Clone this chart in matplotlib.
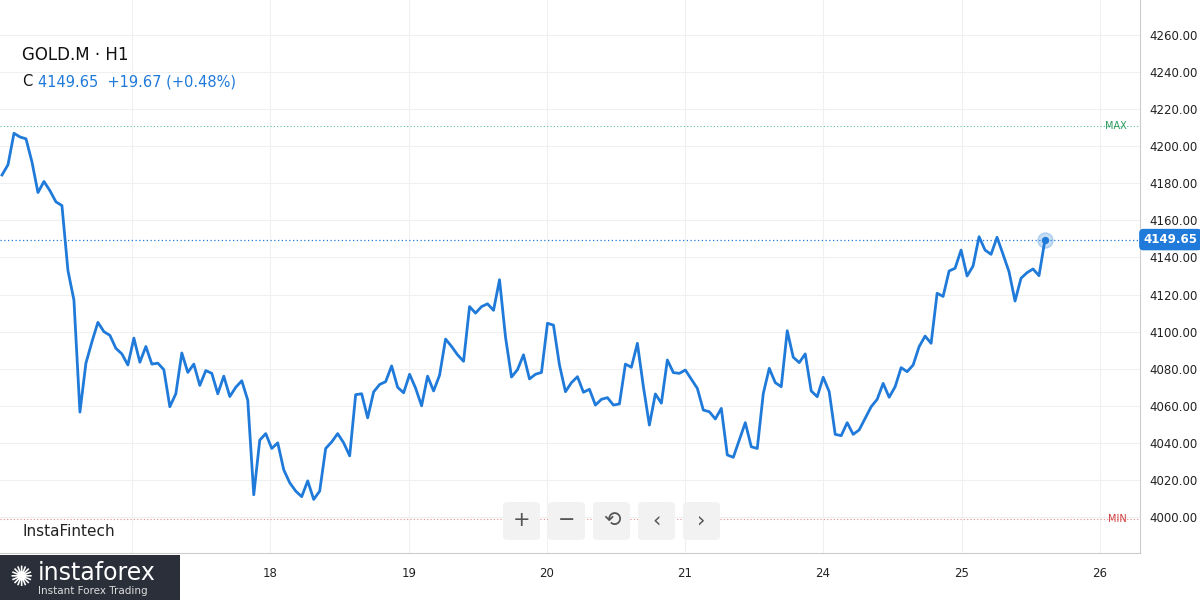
import numpy as np
import matplotlib.pyplot as plt
from matplotlib.patches import FancyBboxPatch

# hourly closes, GOLD.M H1
prices = [
    4184.5, 4190, 4207, 4205, 4204, 4191.5, 4175, 4181, 4176, 4170, 4168, 4133, 4117,
    4056.6, 4083, 4094.5, 4105, 4100, 4098, 4091, 4088, 4082, 4096.5, 4083.5, 4092,
    4082.5, 4083, 4079.5, 4059.5, 4066.5, 4088.5, 4078, 4082.5, 4071, 4079, 4077.5,
    4066.5, 4076, 4065, 4070, 4073.5, 4063, 4012, 4041.5, 4045, 4037, 4040, 4025.5,
    4018.5, 4014, 4011, 4019.5, 4009.5, 4014, 4037, 4040.5, 4045, 4040, 4033, 4066,
    4066.5, 4053.5, 4067.5, 4071.5, 4073, 4081.5, 4070, 4067, 4077, 4069.5, 4060,
    4076, 4068, 4076.5, 4096, 4092, 4087.5, 4084, 4113.5, 4110, 4113.5, 4115, 4111.5,
    4128, 4097, 4075.5, 4079.5, 4087.5, 4074.5, 4077, 4078,
    4104.5, 4103.5, 4082, 4067.6, 4072.5, 4075.7, 4067.3, 4068.9, 4060.4, 4063.5,
    4064.4, 4060.4, 4061, 4082.5, 4080.8, 4093.7, 4070.3, 4049.6, 4066.4, 4061.4,
    4084.7, 4077.9, 4077.5, 4079.3, 4074.3, 4069.4, 4057.7, 4056.8, 4052.9, 4058.6,
    4033.5, 4032.2, 4041.5, 4050.9, 4037.9, 4037, 4066.6, 4080.2, 4072.5, 4070.3,
    4100.5, 4086.2, 4083.3, 4088, 4068, 4064.9, 4075.4, 4067.6, 4044.6, 4043.9,
    4050.9, 4044.6, 4047, 4053.3, 4059.5, 4063.5, 4072.1, 4064.6, 4070.3, 4080.6,
    4078.4, 4082, 4091.9, 4097.6, 4093.7, 4120.7, 4119, 4132.7, 4134.2, 4144, 4130,
    4135.4, 4151.2, 4144, 4141.7, 4150.9, 4141.7, 4132.3, 4116.5, 4128.8, 4131.8,
    4133.8, 4130.2, 4149.65,
]
day_labels = ['17', '18', '19', '20', '21', '24', '25', '26']
day_px = [132, 270, 409, 547, 685, 823, 962, 1100]
price_ticks = np.arange(4000, 4261, 20)
last_price = 4149.65
max_level = 4211
min_level = 3999

BLUE = '#1f7ad9'
n = len(prices)
x_first, x_last = 2, 1045
step = (x_last - x_first) / (n - 1)
xs = np.arange(n)
day_pos = [(p - x_first) / step for p in day_px]

fig = plt.figure(figsize=(12, 6), dpi=100)
ax = fig.add_axes([0, 47 / 600, 1140 / 1200, 553 / 600])
ax.set_xlim(-x_first / step, (1140 - x_first) / step)
ax.set_ylim(4260 - 518 / 1.854, 4260 + 35 / 1.854)

ax.plot(xs, prices, color=BLUE, lw=2, zorder=3)
ax.scatter([xs[-1]], [prices[-1]], s=120, color=BLUE, alpha=0.25, zorder=4)
ax.scatter([xs[-1]], [prices[-1]], s=18, color=BLUE, zorder=5)

ax.axhline(last_price, color=BLUE, lw=0.9, ls=(0, (1, 2)), zorder=2)
ax.axhline(max_level, color='#5cc0a8', lw=0.8, ls=(0, (1, 2)), zorder=2)
ax.axhline(min_level, color='#e88a8a', lw=0.8, ls=(0, (1, 2)), zorder=2)
ax.text(1.0 - 0.012, max_level, 'MAX', transform=ax.get_yaxis_transform(),
        ha='right', va='center', fontsize=7, color='#2a9a5a')
ax.text(1.0 - 0.012, min_level, 'MIN', transform=ax.get_yaxis_transform(),
        ha='right', va='center', fontsize=7, color='#d04040')

ax.set_xticks(day_pos)
ax.set_xticklabels(day_labels)
ax.set_yticks(price_ticks)
ax.set_yticklabels([f'{v:.2f}' for v in price_ticks])
ax.yaxis.tick_right()
ax.tick_params(axis='both', length=0, labelsize=8.5, colors='#222222')
ax.tick_params(axis='y', pad=7)
ax.tick_params(axis='x', pad=10)
ax.grid(True, color='#f0f0f0', lw=0.8)
for s in ['top', 'left']:
    ax.spines[s].set_visible(False)
for s in ['right', 'bottom']:
    ax.spines[s].set_color('#cccccc')

# current price tag
ax.text(1.0 + 0.003, last_price, f'{last_price:.2f}', transform=ax.get_yaxis_transform(),
        ha='left', va='center', fontsize=8.5, color='white', fontweight='bold',
        bbox=dict(boxstyle='round,pad=0.3', fc=BLUE, ec=BLUE), zorder=6)

# header
fig.text(22 / 1200, 1 - 55 / 600, 'GOLD.M · H1', fontsize=12, va='center', color='#111111')
fig.text(22 / 1200, 1 - 82 / 600, 'C', fontsize=10.5, va='center', color='#111111')
fig.text(38 / 1200, 1 - 82 / 600, '4149.65  +19.67 (+0.48%)', fontsize=10.5, va='center', color=BLUE)
fig.text(22 / 1200, 1 - 532 / 600, 'InstaFintech', fontsize=11, va='center', color='#222222')

# navigation buttons
for i, sym in enumerate(['+', '−', '⟲', '‹', '›']):
    x0 = 503 + i * 45
    fig.patches.append(FancyBboxPatch((x0 / 1200, 1 - 540 / 600), 37 / 1200, 38 / 600,
                                      boxstyle='round,pad=0,rounding_size=0.005',
                                      transform=fig.transFigure, fc='#f2f2f2', ec='none'))
    fig.text((x0 + 18.5) / 1200, 1 - 520 / 600, sym, ha='center', va='center',
             fontsize=15, color='#555555')

# logo, drawn on top of the axis labels
logo = fig.add_axes([0, 0, 180 / 1200, 45 / 600])
logo.set_facecolor('#2b2f3a')
logo.set_xticks([])
logo.set_yticks([])
for s in logo.spines.values():
    s.set_visible(False)
logo.text(0.21, 0.6, 'instaforex', fontsize=17, va='center', color='white', transform=logo.transAxes)
logo.text(0.21, 0.2, 'Instant Forex Trading', fontsize=7.5, va='center', color='#dddddd', transform=logo.transAxes)
logo.text(0.05, 0.5, '✺', fontsize=20, va='center', color='white', transform=logo.transAxes)

fig.savefig('out.png', dpi=100)
